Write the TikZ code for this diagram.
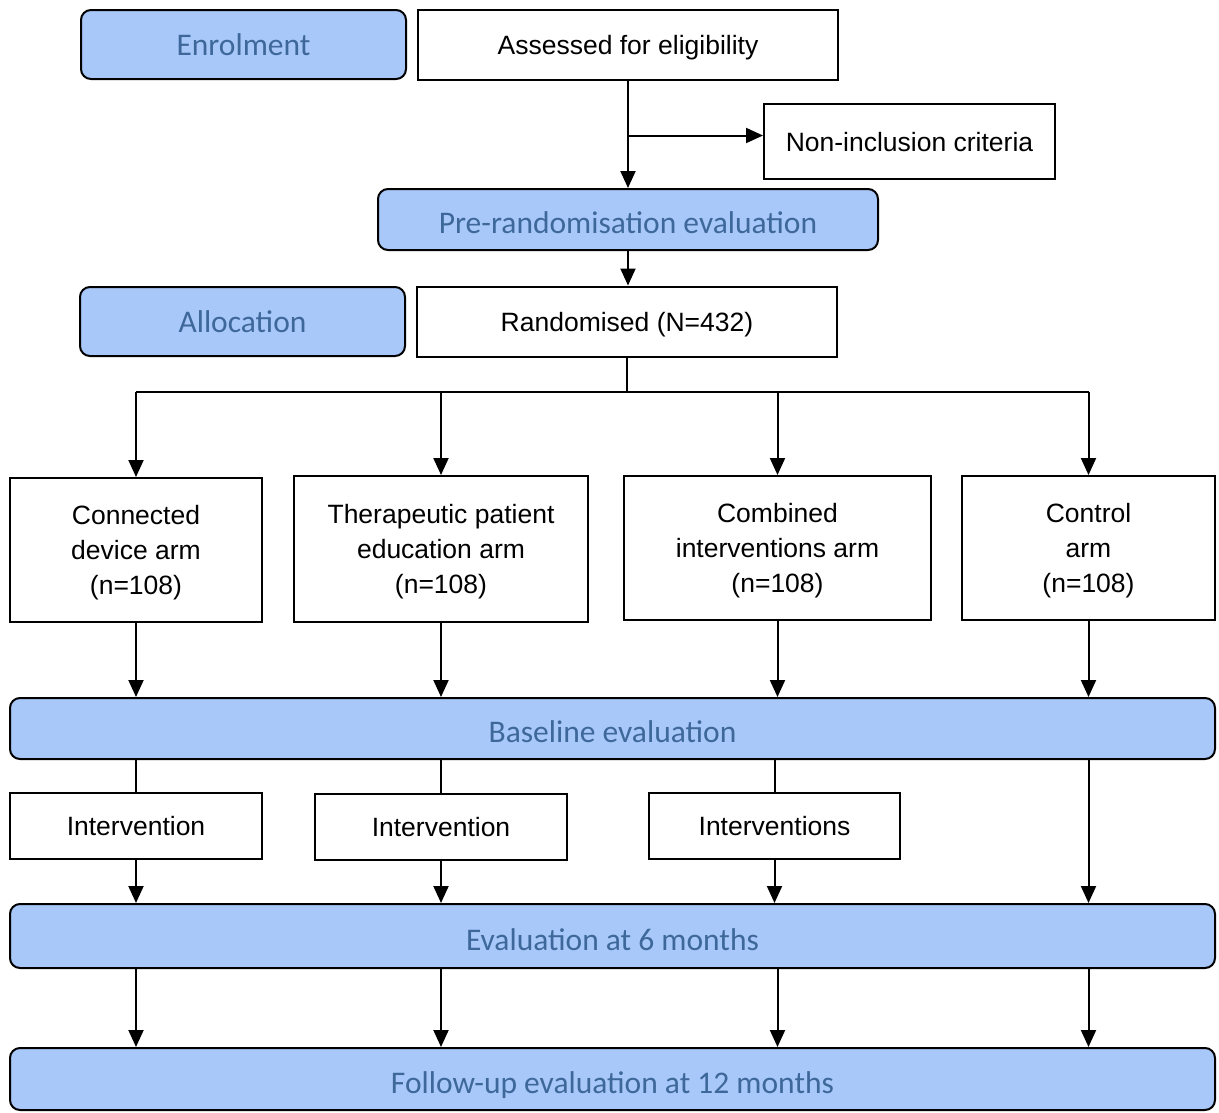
\documentclass[tikz,border=0pt]{standalone}
\usepackage{fontspec}
\usepackage{tikz}
\usetikzlibrary{arrows.meta, positioning}
\newfontfamily\boxfont{Liberation Sans}
\newfontfamily\stagefont{Carlito}
\definecolor{stageblue}{HTML}{A9C8FA}
\definecolor{stagetext}{HTML}{3D6899}
\tikzstyle{stage} = [draw, rectangle, rounded corners=10pt, fill=stageblue,
   text=stagetext, inner sep=0pt, text height=28pt, text depth=0pt,
   font=\stagefont\fontsize{31.5}{36}\selectfont]
\tikzstyle{plain} = [draw, rectangle, inner sep=0pt, align=center, text depth=0pt,
   font=\boxfont\fontsize{26.5}{35}\selectfont]
\tikzstyle{flow} = [-{Triangle[length=17pt,width=15pt]}]

\begin{document}
\begin{tikzpicture}[
  x=1pt, y=-1pt,
  line width=2pt,
  ]
  \useasboundingbox (0,0) rectangle (1219,1112);
  % enrolment
  \node[stage, text height=21pt, minimum width=325pt, minimum height=69pt] (enrol) at (243.5,44.5) {Enrolment};
  \node[plain, minimum width=420pt, minimum height=70pt, right = 10pt of enrol] (assess) {Assessed for eligibility};
  \node[plain, minimum width=291pt, minimum height=75pt] (noninc) at (909.5,141.5) {Non-inclusion criteria};
  \node[stage, minimum width=500pt, minimum height=61pt] (prerand) at (628,219.5) {Pre-randomisation evaluation};
  % allocation
  \node[stage, text height=21pt, minimum width=325pt, minimum height=69pt] (alloc) at (242.5,321.5) {Allocation};
  \node[plain, minimum width=420pt, minimum height=70pt, right = 10pt of alloc] (rand) {Randomised (N=432)};
  % arms
  \node[plain, minimum width=252pt, minimum height=144pt] (arm1) at (136,550) {Connected\\device arm\\(n=108)};
  \node[plain, minimum width=294pt, minimum height=146pt] (arm2) at (441,549) {Therapeutic patient\\education arm\\(n=108)};
  \node[plain, minimum width=307pt, minimum height=144pt] (arm3) at (777.5,548) {Combined\\interventions arm\\(n=108)};
  \node[plain, minimum width=253pt, minimum height=144pt] (arm4) at (1088.5,548) {Control\\arm\\(n=108)};
  \node[stage, minimum width=1205pt, minimum height=61pt] (base) at (612.5,728.5) {Baseline evaluation};
  \node[plain, minimum width=252pt, minimum height=66pt] (int1) at (136,826) {Intervention};
  \node[plain, minimum width=252pt, minimum height=66pt] (int2) at (441,827) {Intervention};
  \node[plain, minimum width=251pt, minimum height=66pt] (int3) at (774.5,826) {Interventions};
  \node[stage, minimum width=1205pt, minimum height=64pt] (six) at (612.5,936) {Evaluation at 6 months};
  \node[stage, minimum width=1205pt, minimum height=62pt] (follow) at (612.5,1079) {Follow-up evaluation at 12 months};

  \draw[flow] (assess) to (prerand);
  \draw[flow] ([yshift=6pt]noninc.west -| assess.south) to ([yshift=6pt]noninc.west);
  \draw[flow] (prerand.south) to (prerand.south |- rand.north);
  \draw (rand.south) -- ++(0,34) coordinate (split);
  \draw (split -| arm1.north) -- (split -| arm4.north);
  \foreach \a in {arm1,arm2,arm3,arm4} {
    \draw[flow] (split -| \a.north) to (\a.north);
    \draw[flow] (\a.south) to (\a.south |- base.north);
    \draw[flow] (six.south -| \a.south) to (follow.north -| \a.south);
  }
  \foreach \i in {int1,int2,int3} {
    \draw (base.south -| \i.north) -- (\i.north);
    \draw[flow] (\i.south) to (\i.south |- six.north);
  }
  \draw[flow] (base.south -| arm4.south) to (six.north -| arm4.south);
\end{tikzpicture}
\end{document}
